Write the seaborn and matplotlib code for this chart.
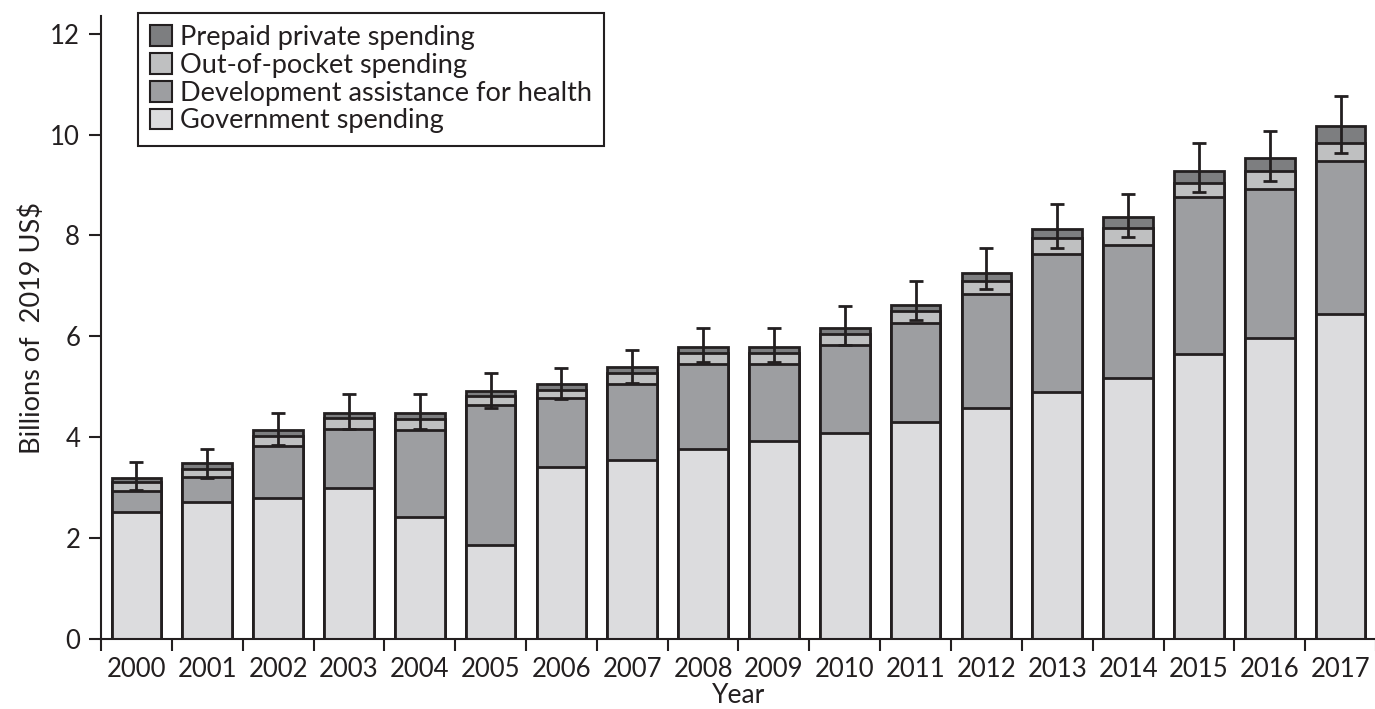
import numpy as np
import pandas as pd
import matplotlib
matplotlib.use("Agg")
import matplotlib.pyplot as plt
import seaborn as sns
from matplotlib.patches import Patch

# ---- data ----
years = [str(y) for y in range(2000, 2018)]
government = [2.52, 2.72, 2.79, 3.00, 2.41, 1.86, 3.41, 3.55, 3.77, 3.93,
              4.09, 4.31, 4.57, 4.90, 5.18, 5.65, 5.96, 6.44]
dah = [0.42, 0.49, 1.04, 1.16, 1.74, 2.78, 1.36, 1.51, 1.68, 1.52,
       1.73, 1.95, 2.27, 2.74, 2.63, 3.11, 2.96, 3.03]
oop = [0.17, 0.16, 0.20, 0.22, 0.22, 0.17, 0.17, 0.22, 0.22, 0.22,
       0.23, 0.25, 0.25, 0.31, 0.33, 0.27, 0.35, 0.36]
prepaid = [0.09, 0.11, 0.11, 0.11, 0.11, 0.11, 0.11, 0.12, 0.11, 0.11,
           0.12, 0.12, 0.16, 0.18, 0.22, 0.24, 0.26, 0.34]
err_low = [2.96, 3.19, 3.84, 4.16, 4.16, 4.57, 4.75, 5.08, 5.50, 5.50,
           5.83, 6.33, 6.94, 7.75, 7.96, 8.87, 9.08, 9.64]
err_high = [3.50, 3.77, 4.48, 4.85, 4.85, 5.28, 5.37, 5.73, 6.16, 6.16,
            6.60, 7.10, 7.75, 8.62, 8.82, 9.83, 10.08, 10.77]

series_keys = ["gov", "dah", "oop", "prepaid"]
series_names = ["Government spending", "Development assistance for health",
                "Out-of-pocket spending", "Prepaid private spending"]
colors = ["#dcdcde", "#9d9ea1", "#bfc0c1", "#7d7e80"]
edge = "#231f20"

sns.set_style("ticks")
plt.rcParams["font.family"] = ["Lato", "DejaVu Sans"]
plt.rcParams["text.color"] = edge
plt.rcParams["axes.labelcolor"] = edge
plt.rcParams["xtick.color"] = edge
plt.rcParams["ytick.color"] = edge

fig = plt.figure(figsize=(13.75, 7.09), dpi=100)
ax = fig.add_axes([101 / 1375, 1 - 639 / 709, (1376 - 101) / 1375, (639 - 16) / 709])

df = pd.DataFrame({"Year": years, "gov": government, "dah": dah,
                   "oop": oop, "prepaid": prepaid})
cum = df[series_keys].cumsum(axis=1)

for key, c in reversed(list(zip(series_keys, colors))):
    sns.barplot(x=df["Year"], y=cum[key], color=c, saturation=1,
                edgecolor=edge, linewidth=2, width=0.7, errorbar=None, ax=ax)

total = cum["prepaid"].to_numpy()
low = np.array(err_low)
high = np.array(err_high)
ax.errorbar(np.arange(len(years)), total, yerr=[total - low, high - total],
            fmt="none", ecolor=edge, elinewidth=2, capsize=5, capthick=2, zorder=5)

ax.set_xlim(-0.5, len(years) - 0.5)
ax.set_ylim(0, 12.35)
ax.set_yticks(np.arange(0, 13, 2))
ax.set_xticks(np.arange(len(years)))
ax.set_xticks(np.arange(-0.5, len(years), 1), minor=True)
ax.tick_params(axis="x", which="major", length=0, pad=13, labelsize=18.5)
ax.tick_params(axis="x", which="minor", length=8.5, width=1.5)
ax.tick_params(axis="y", length=9, width=1.5, pad=6, labelsize=18.5)
for s in ["left", "bottom"]:
    ax.spines[s].set_linewidth(1.5)
    ax.spines[s].set_color(edge)
sns.despine(ax=ax)

ax.set_xlabel("Year", fontsize=19, labelpad=1)
ax.set_ylabel("Billions of  2019 US$", fontsize=19.5, labelpad=4)

handles = [Patch(facecolor=colors[i], edgecolor=edge, linewidth=1.5,
                 label=series_names[i]) for i in [3, 2, 1, 0]]
leg = ax.legend(handles=handles, loc="upper left",
                bbox_to_anchor=(138 / 1375, 1 - 13 / 709),
                bbox_transform=fig.transFigure, borderaxespad=0,
                fontsize=19.5, frameon=True, fancybox=False,
                handlelength=0.8, handleheight=0.8, handletextpad=0.3,
                labelspacing=0.1, borderpad=0.45)
leg.get_frame().set_edgecolor(edge)
leg.get_frame().set_linewidth(1.5)
leg.get_frame().set_alpha(1)

fig.savefig("out.png", dpi=100)
